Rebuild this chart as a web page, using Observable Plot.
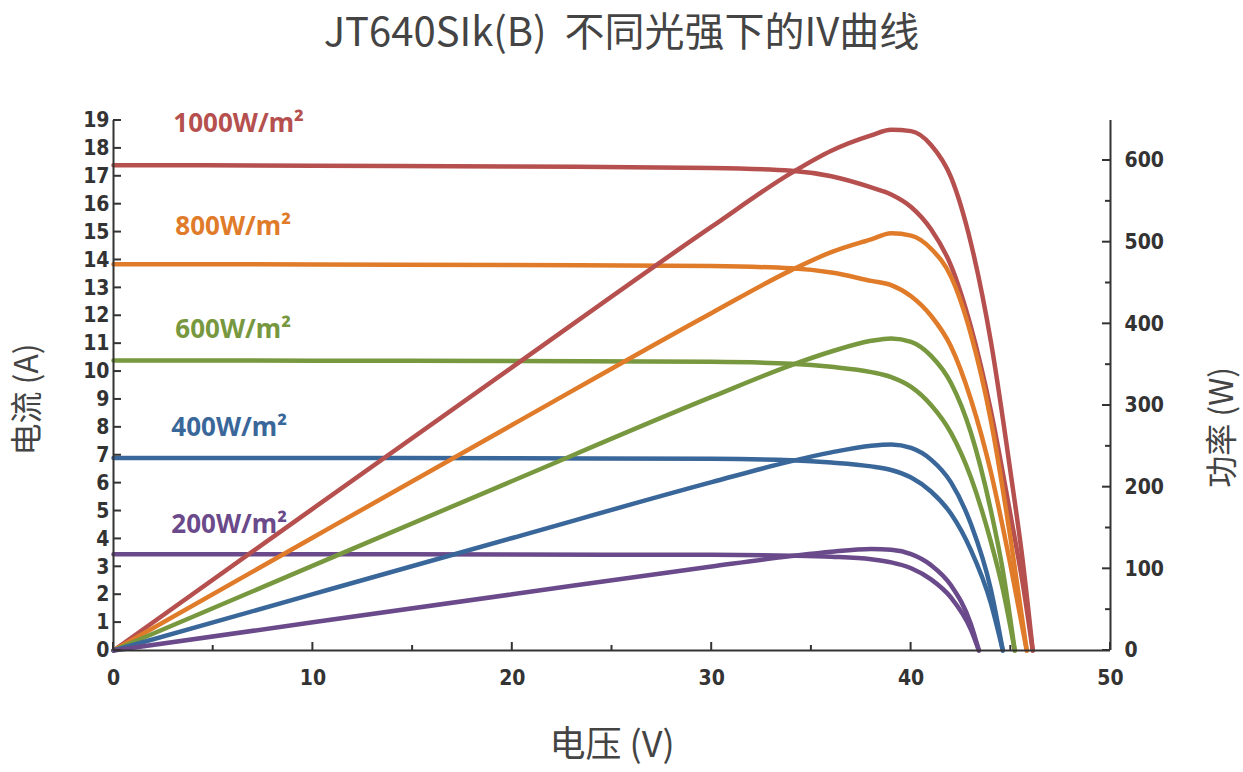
<!DOCTYPE html>
<html><head><meta charset="utf-8">
<script src="https://cdn.jsdelivr.net/npm/d3@7"></script>
<script src="https://cdn.jsdelivr.net/npm/@observablehq/plot@0.6"></script>
<style>
body{margin:0;background:#fff;font-family:"Noto Sans CJK SC","Noto Sans",sans-serif;}
#title{height:70px;text-align:center;font-size:40px;color:#444;line-height:58px;}
</style></head><body>
<div id="title">JT640SIk(B)&nbsp; 不同光强下的IV曲线</div>
<div id="chart"></div>
<script>
const irradiance = ["1000W/m²","800W/m²","600W/m²","400W/m²","200W/m²"];
const colors = ["#b5504f","#e07b2a","#77983e","#3a679a","#6a4a8a"];
const voltage = [
 [0,10,20,30,34,36,38,39,40,41,42,43,44,45,45.6,46.1],
 [0,10,20,30,34,36,38,39,40,41,42,43,44,45,45.8],
 [0,10,20,30,34,36,38,39,40,41,42,43,44,44.6,45.2],
 [0,10,20,30,34,36,38,39,40,41,42,43,44,44.6],
 [0,10,20,30,34,36,38,39,40,41,42,43,43.4]
];
const current = [
 [17.4,17.38,17.35,17.3,17.2,17.0,16.6,16.35,15.9,15.1,13.8,11.6,8.6,4.8,2.4,0],
 [13.85,13.84,13.82,13.78,13.7,13.55,13.25,13.1,12.7,12.0,10.9,9.0,6.4,3.0,0],
 [10.4,10.39,10.38,10.35,10.28,10.17,9.98,9.8,9.45,8.8,7.8,6.2,3.9,2.2,0],
 [6.9,6.9,6.89,6.87,6.82,6.74,6.6,6.47,6.2,5.7,4.9,3.6,1.7,0],
 [3.45,3.45,3.44,3.43,3.4,3.36,3.27,3.16,2.95,2.55,1.9,0.75,0]
];
const labelPos = [[3,18.9],[3.1,15.2],[3.1,11.5],[2.9,8.0],[2.9,4.5]];
const xTicks = [0,10,20,30,40,50];
const yTicks = d3.range(0,20);
const pTicks = [0,100,200,300,400,500,600];
const pMax = 649, iMax = 19;
const p2i = p => p*iMax/pMax;

const iv = [], pw = [];
irradiance.forEach((g,k)=>{
  voltage[k].forEach((v,j)=>{
    iv.push({g,v,i:current[k][j]});
    pw.push({g,v,p:p2i(v*current[k][j])});
  });
});
const labels = irradiance.map((g,k)=>({g,x:labelPos[k][0],y:labelPos[k][1]}));
const tickFont = {fontFamily:"DejaVu Sans Condensed",fontWeight:"bold",fontSize:21,fill:"#333"};

const plot = Plot.plot({
  width:1243,height:702,marginTop:50,marginBottom:122,marginLeft:113,marginRight:133,
  style:{fontFamily:"DejaVu Sans Condensed",fontSize:"21px",fontWeight:"bold",color:"#333",overflow:"visible"},
  x:{type:"linear",domain:[0,50],axis:null},
  y:{type:"linear",domain:[0,iMax],axis:null},
  color:{domain:irradiance,range:colors},
  marks:[
    Plot.line(iv,{x:"v",y:"i",stroke:"g",z:"g",strokeWidth:4.5,curve:"monotone-x"}),
    Plot.line(pw,{x:"v",y:"p",stroke:"g",z:"g",strokeWidth:4.5,curve:"monotone-x"}),
    Plot.ruleX([0],{stroke:"#333",strokeWidth:2}),
    Plot.ruleX([50],{stroke:"#333",strokeWidth:2}),
    Plot.ruleY([0],{stroke:"#333",strokeWidth:2}),
    Plot.text(yTicks,{x:()=>0,y:d=>d,text:d=>String(d),textAnchor:"end",dx:-4,...tickFont}),
    Plot.text(xTicks,{x:d=>d,y:()=>0,text:d=>String(d),dy:28,...tickFont}),
    Plot.text(pTicks,{x:()=>50,y:d=>p2i(d),text:d=>String(d),textAnchor:"start",dx:14,...tickFont}),
    Plot.text(labels,{x:"x",y:"y",text:"g",fill:"g",textAnchor:"start",fontFamily:"Noto Sans",fontWeight:"bold",fontSize:26}),
    Plot.text(["电压 (V)"],{x:()=>25,y:()=>0,dy:95,fontFamily:"Noto Sans CJK SC",fontWeight:"normal",fontSize:36,fill:"#444"}),
    Plot.text(["电流 (A)"],{x:()=>0,y:()=>iMax/2-0.5,dx:-86,rotate:-90,fontFamily:"Noto Sans CJK SC",fontWeight:"normal",fontSize:32,fill:"#444"}),
    Plot.text(["功率 (W)"],{x:()=>50,y:()=>iMax/2-1.5,dx:112,rotate:-90,fontFamily:"Noto Sans CJK SC",fontWeight:"normal",fontSize:32,fill:"#444"})
  ]
});
const svg = d3.select(plot);
const sx = plot.scale("x"), sy = plot.scale("y");
document.getElementById("chart").appendChild(plot);
const g = svg.append("g").attr("stroke","#333").attr("stroke-width",2);
d3.range(0,51,5).forEach(v=>{const x=sx.apply(v);g.append("line").attr("x1",x).attr("x2",x).attr("y1",sy.apply(0)).attr("y2",sy.apply(0)-(v%10?5:8));});
yTicks.forEach(v=>{const y=sy.apply(v);g.append("line").attr("x1",sx.apply(0)).attr("x2",sx.apply(0)+8).attr("y1",y).attr("y2",y);});
d3.range(0,650,50).forEach(p=>{const y=sy.apply(p2i(p));g.append("line").attr("x1",sx.apply(50)).attr("x2",sx.apply(50)-(p%100?5:8)).attr("y1",y).attr("y2",y);});
</script></body></html>
